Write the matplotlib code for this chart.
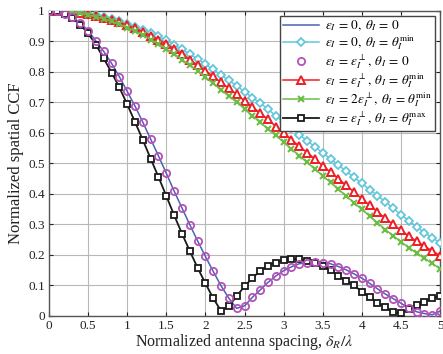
import matplotlib
matplotlib.use("Agg")
import matplotlib.pyplot as plt
import numpy as np

# ---------------- data ----------------
x = [round(0.1 * i, 1) for i in range(51)]

# eps=0, theta=0 (blue line) and eps=eps_perp, theta=0 (magenta circles)
ccf_a = [1.0, 0.998, 0.99, 0.978, 0.96, 0.934, 0.90, 0.866, 0.827, 0.783,
         0.735, 0.687, 0.634, 0.579, 0.524, 0.467, 0.409, 0.354, 0.299, 0.246,
         0.195, 0.146, 0.099, 0.058, 0.025, 0.033, 0.061, 0.085, 0.110, 0.131,
         0.148, 0.161, 0.171, 0.175, 0.177, 0.175, 0.171, 0.162, 0.151, 0.138,
         0.124, 0.107, 0.089, 0.072, 0.057, 0.042, 0.026, 0.014, 0.008, 0.004,
         0.016]

# eps=0, theta=theta_min (cyan diamonds)
ccf_b = [1.0, 0.999, 0.998, 0.996, 0.993, 0.989, 0.984, 0.978, 0.971, 0.964,
         0.956, 0.947, 0.937, 0.927, 0.915, 0.902, 0.888, 0.873, 0.857, 0.841,
         0.824, 0.807, 0.789, 0.771, 0.754, 0.734, 0.715, 0.697, 0.677, 0.655,
         0.634, 0.614, 0.594, 0.574, 0.554, 0.534, 0.514, 0.494, 0.474, 0.454,
         0.434, 0.414, 0.394, 0.374, 0.353, 0.332, 0.312, 0.292, 0.273, 0.256,
         0.240]

# eps=eps_perp, theta=theta_min (red triangles)
ccf_c = [1.0, 0.9995, 0.998, 0.996, 0.992, 0.988, 0.983, 0.976, 0.969, 0.961,
         0.952, 0.942, 0.931, 0.918, 0.905, 0.890, 0.874, 0.858, 0.839, 0.822,
         0.803, 0.784, 0.765, 0.745, 0.726, 0.704, 0.685, 0.664, 0.644, 0.620,
         0.598, 0.577, 0.556, 0.535, 0.514, 0.492, 0.471, 0.449, 0.428, 0.406,
         0.384, 0.363, 0.341, 0.320, 0.300, 0.281, 0.262, 0.245, 0.229, 0.213,
         0.198]

# eps=2 eps_perp, theta=theta_min (green x)
ccf_e = [1.0, 0.999, 0.998, 0.995, 0.991, 0.986, 0.980, 0.973, 0.964, 0.955,
         0.944, 0.933, 0.920, 0.905, 0.890, 0.874, 0.858, 0.839, 0.822, 0.803,
         0.781, 0.762, 0.740, 0.720, 0.700, 0.678, 0.656, 0.634, 0.612, 0.591,
         0.569, 0.547, 0.525, 0.503, 0.481, 0.459, 0.437, 0.415, 0.393, 0.371,
         0.349, 0.327, 0.305, 0.283, 0.263, 0.243, 0.224, 0.206, 0.189, 0.172,
         0.155]

# eps=eps_perp, theta=theta_max (black squares)
ccf_d = [1.0, 0.998, 0.99, 0.975, 0.953, 0.925, 0.888, 0.843, 0.797, 0.748,
         0.693, 0.635, 0.576, 0.515, 0.455, 0.393, 0.330, 0.270, 0.213, 0.158,
         0.107, 0.058, 0.017, 0.032, 0.065, 0.097, 0.124, 0.148, 0.165, 0.175,
         0.183, 0.187, 0.185, 0.181, 0.174, 0.164, 0.149, 0.132, 0.115, 0.100,
         0.080, 0.062, 0.044, 0.028, 0.012, 0.010, 0.023, 0.036, 0.047, 0.058,
         0.066]

labels = [r"$\epsilon_I\,=\,0,\;\theta_I\,=\,0$",
          r"$\epsilon_I\,=\,0,\;\theta_I\,=\,\theta_I^{\min}$",
          r"$\epsilon_I\,=\,\epsilon_I^{\perp},\;\theta_I\,=\,0$",
          r"$\epsilon_I\,=\,\epsilon_I^{\perp},\;\theta_I\,=\,\theta_I^{\min}$",
          r"$\epsilon_I\,=\,2\epsilon_I^{\perp},\;\theta_I\,=\,\theta_I^{\min}$",
          r"$\epsilon_I\,=\,\epsilon_I^{\perp},\;\theta_I\,=\,\theta_I^{\max}$"]

xticks = [0, 0.5, 1, 1.5, 2, 2.5, 3, 3.5, 4, 4.5, 5]
xticklabels = ["0", "0.5", "1", "1.5", "2", "2.5", "3", "3.5", "4", "4.5", "5"]
yticks = [0, 0.1, 0.2, 0.3, 0.4, 0.5, 0.6, 0.7, 0.8, 0.9, 1]
yticklabels = ["0", "0.1", "0.2", "0.3", "0.4", "0.5", "0.6", "0.7", "0.8", "0.9", "1"]

# ---------------- plot ----------------
plt.rcParams["font.family"] = ["Liberation Serif", "DejaVu Serif"]
plt.rcParams["mathtext.fontset"] = "stix"

fig = plt.figure(figsize=(4.43, 3.54), dpi=100)
ax = fig.add_axes([49 / 443, 1 - 316 / 354, (440 - 49) / 443, (316 - 10.5) / 354])

ax.plot(x, ccf_a, color="#4a62b4", lw=1.1, label=labels[0], zorder=3)
ax.plot(x, ccf_b, color="#62c6dc", lw=1.1, marker="D", ms=3.6, mfc="white",
        mec="#62c6dc", mew=1.3, label=labels[1], zorder=3)
ax.plot(x, ccf_a, ls="none", marker="o", ms=5.2, mfc="none", mec="#b452b8",
        mew=1.3, label=labels[2], zorder=4)
ax.plot(x, ccf_c, color="#ee1d24", lw=1.1, marker="^", ms=5.6, mfc="white",
        mec="#ee1d24", mew=1.4, label=labels[3], zorder=3)
ax.plot(x, ccf_e, color="#6cbd45", lw=1.1, marker="x", ms=3.8, mew=1.5,
        label=labels[4], zorder=3)
ax.plot(x, ccf_d, color="#1a1a1a", lw=1.3, marker="s", ms=4.6, mfc="white",
        mec="#1a1a1a", mew=1.3, label=labels[5], zorder=3)

ax.set_xlim(0, 5)
ax.set_ylim(0, 1)
ax.set_xticks(xticks)
ax.set_xticklabels(xticklabels)
ax.set_yticks(yticks)
ax.set_yticklabels(yticklabels)
ax.tick_params(direction="in", top=True, right=True, labelsize=9.5,
               length=3, width=0.8, colors="#222222", pad=3)
ax.grid(True, color="#b8b8b8", lw=0.8)
ax.set_axisbelow(True)
for s in ax.spines.values():
    s.set_color("#555555")
    s.set_linewidth(1.0)

ax.set_xlabel(r"Normalized antenna spacing, $\delta_R/\lambda$", fontsize=11.5,
              labelpad=0, color="#222222")
ax.set_ylabel("Normalized spatial CCF", fontsize=12, labelpad=3, color="#222222")

leg = ax.legend(loc="upper right", fontsize=9.5, frameon=True, fancybox=False,
                edgecolor="#444444", framealpha=1, borderpad=0.2,
                labelspacing=0.02, handlelength=2.7, handletextpad=0.5,
                borderaxespad=0.4)
leg.get_frame().set_linewidth(1.0)

fig.savefig("out.png", dpi=100)
